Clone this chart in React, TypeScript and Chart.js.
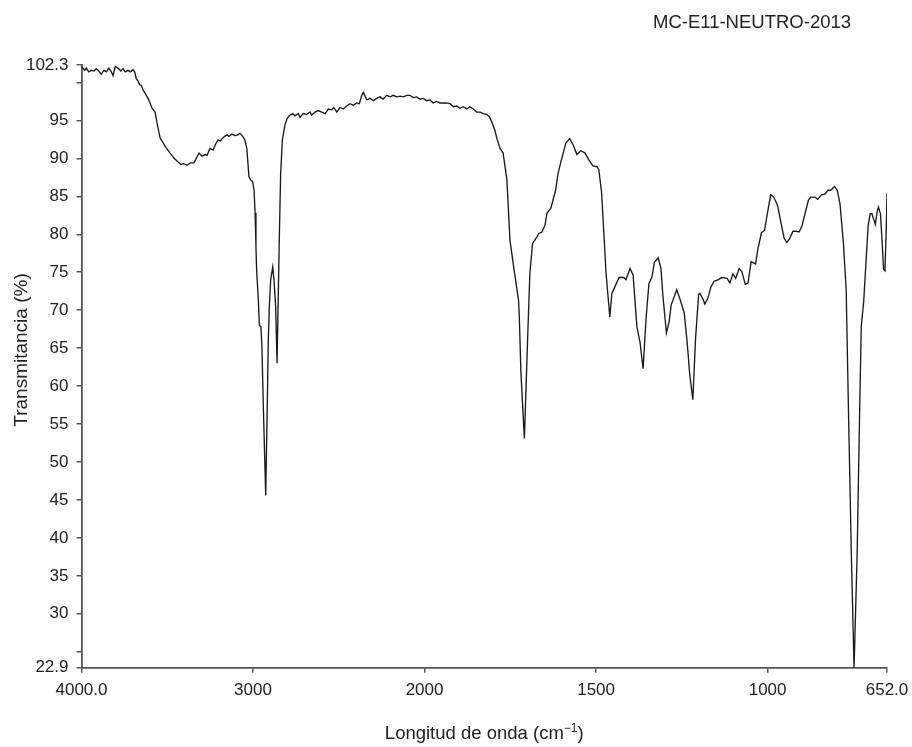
import React, { useEffect, useRef } from 'react';
import { Chart, registerables } from 'chart.js';

Chart.register(...registerables);

const TITLE = 'MC-E11-NEUTRO-2013';
const X_TITLE_MAIN = 'Longitud de onda (cm';
const X_TITLE_SUP = '−1';
const X_TITLE_END = ')';
const Y_TITLE = 'Transmitancia (%)';

const WAVENUMBERS = [
  4000, 3981, 3972, 3958, 3943, 3927, 3914, 3900, 3885, 3869, 3855, 3841, 3826, 3816, 3803, 3787,
  3771, 3758, 3745, 3729, 3713, 3700, 3690, 3681, 3671, 3661, 3651, 3641, 3622, 3612, 3600, 3589,
  3571, 3560, 3542, 3513, 3484, 3460, 3440, 3420, 3405, 3385, 3364, 3345, 3335, 3315, 3297, 3280,
  3268, 3251, 3233, 3218, 3204, 3190, 3181, 3165, 3152, 3140, 3123, 3105, 3088, 3076, 3060, 3047,
  3036, 3024, 3015, 3002, 2994, 2988, 2983, 2979, 2969, 2963, 2954, 2948, 2940, 2926, 2917, 2911,
  2905, 2897, 2885, 2878, 2868, 2860, 2854, 2847, 2839, 2829, 2814, 2800, 2784, 2769, 2755, 2736,
  2726, 2707, 2687, 2668, 2658, 2639, 2619, 2600, 2580, 2561, 2541, 2528, 2512, 2493, 2474, 2454,
  2435, 2415, 2396, 2380, 2366, 2357, 2347, 2337, 2318, 2299, 2279, 2260, 2241, 2221, 2201, 2182,
  2162, 2143, 2124, 2104, 2085, 2066, 2046, 2027, 2007, 1994, 1984, 1975, 1965, 1955, 1945, 1936,
  1926, 1916, 1906, 1897, 1887, 1877, 1868, 1858, 1848, 1838, 1829, 1819, 1811, 1804, 1795, 1789,
  1780, 1771, 1760, 1751, 1739, 1726, 1724, 1719, 1709, 1699, 1693, 1685, 1672, 1667, 1658, 1649,
  1643, 1632, 1618, 1611, 1600, 1588, 1577, 1567, 1556, 1544, 1532, 1521, 1509, 1497, 1492, 1484,
  1480, 1471, 1460, 1454, 1445, 1433, 1419, 1413, 1401, 1392, 1381, 1372, 1363, 1354, 1346, 1337,
  1330, 1319, 1311, 1305, 1295, 1287, 1281, 1265, 1255, 1243, 1234, 1227, 1218, 1210, 1201, 1197,
  1188, 1183, 1174, 1165, 1156, 1145, 1133, 1118, 1110, 1101, 1093, 1083, 1075, 1065, 1057, 1048,
  1035, 1029, 1018, 1009, 1000, 991, 982, 971, 961, 952, 944, 935, 926, 917, 908, 900,
  891, 881, 874, 862, 854, 843, 833, 824, 816, 805, 797, 789, 779, 771, 764, 756,
  748, 739, 732, 727, 720, 713, 707, 701, 696, 691, 686, 681, 677, 671, 666, 662,
  658, 654, 652,
];

const TRANSMITTANCE = [
  102.1, 101.6, 101.9, 101.4, 101.6, 101.5, 101.8, 101.5, 101.1, 101.6, 101.4, 101.9, 101.4, 100.9, 102.1, 101.9,
  101.5, 101.8, 101.4, 101.6, 101.4, 101.7, 101.4, 100.5, 100.2, 99.7, 99.6, 99.0, 98.3, 97.9, 97.3, 96.6,
  96.1, 94.7, 92.7, 91.6, 90.7, 90.0, 89.6, 89.2, 89.3, 89.1, 89.4, 89.4, 89.8, 90.7, 90.3, 90.5,
  90.4, 91.3, 91.1, 91.9, 92.4, 92.3, 92.6, 92.9, 93.1, 92.9, 93.2, 93.0, 93.1, 93.3, 92.9, 92.4,
  91.3, 87.6, 87.2, 86.9, 85.8, 82.8, 78.4, 75.3, 71.3, 68.0, 67.8, 65.2, 57.3, 45.6, 57.3, 66.1,
  70.5, 74.0, 75.7, 74.0, 70.5, 63.0, 70.5, 79.2, 88.0, 92.4, 94.4, 95.3, 95.7, 95.9, 95.6, 95.9,
  95.4, 95.9, 95.8, 96.1, 95.7, 96.1, 96.3, 96.1, 95.9, 96.5, 96.4, 96.7, 96.1, 96.7, 96.5, 96.9,
  97.2, 97.0, 97.3, 97.2, 98.3, 98.7, 98.2, 97.7, 97.9, 97.6, 97.9, 98.1, 97.8, 98.3, 98.1, 98.3,
  98.1, 98.2, 98.1, 98.3, 98.3, 98.0, 98.1, 97.8, 97.9, 97.6, 97.7, 97.3, 97.5, 97.3, 97.3, 97.3,
  97.2, 96.8, 96.9, 96.6, 96.8, 96.5, 96.8, 96.5, 96.1, 96.1, 95.9, 95.8, 95.5, 94.8, 93.7, 92.6,
  91.3, 90.7, 87.2, 79.2, 75.3, 71.3, 69.4, 61.7, 53.1, 67.0, 74.9, 78.8, 79.7, 80.1, 80.3, 81.2,
  82.8, 83.4, 85.8, 88.0, 90.0, 92.0, 92.6, 91.8, 90.5, 91.0, 90.7, 89.8, 89.0, 88.9, 88.5, 85.5,
  82.3, 74.9, 69.1, 72.2, 73.1, 74.3, 74.3, 74.0, 75.5, 74.6, 67.8, 65.8, 62.3, 69.1, 73.5, 74.4,
  76.3, 76.9, 75.5, 71.8, 67.0, 68.5, 70.7, 72.7, 71.4, 69.6, 65.5, 61.5, 58.2, 66.3, 72.1, 72.2,
  71.4, 70.8, 71.6, 73.1, 73.8, 74.0, 74.3, 74.2, 73.6, 74.8, 74.2, 75.5, 75.1, 73.4, 73.6, 76.4,
  76.1, 77.9, 80.2, 80.5, 82.9, 85.2, 84.9, 83.8, 81.5, 79.5, 78.9, 79.5, 80.4, 80.4, 80.3, 81.1,
  82.7, 84.5, 84.9, 84.9, 84.6, 85.2, 85.3, 85.8, 85.8, 86.3, 85.8, 84.0, 78.8, 72.7, 56.1, 37.9,
  22.9, 37.9, 56.1, 67.9, 71.1, 76.5, 81.1, 82.7, 82.7, 82.0, 81.3, 82.9, 83.6, 82.7, 78.8, 75.4,
  75.2, 81.0, 85.4,
];

const X_TICK_VALUES = [4000, 3000, 2000, 1500, 1000, 652];
const X_TICK_LABELS = ['4000.0', '3000', '2000', '1500', '1000', '652.0'];
const Y_TICK_VALUES = [22.9, 25, 30, 35, 40, 45, 50, 55, 60, 65, 70, 75, 80, 85, 90, 95, 100, 102.3];
const Y_TICK_LABELS = ['22.9', '', '30', '35', '40', '45', '50', '55', '60', '65', '70', '75', '80', '85', '90', '95', '', '102.3'];

const FONT = '"Liberation Sans", Arial, Helvetica, sans-serif';
const TEXT_COLOR = '#222222';
const AXIS_COLOR = '#555555';

// IR spectra use a split scale: 4000-2000 compressed 2:1, 2000-652 full.
function toAxis(wn: number): number {
  return wn >= 2000 ? (4000 - wn) / 2 : 1000 + (2000 - wn);
}

const textPlugin = {
  id: 'spectrumTexts',
  afterDraw(chart: any) {
    const ctx: CanvasRenderingContext2D = chart.ctx;
    const area = chart.chartArea;
    ctx.save();
    ctx.fillStyle = TEXT_COLOR;
    ctx.textBaseline = 'alphabetic';

    ctx.font = `18.5px ${FONT}`;
    ctx.textAlign = 'center';
    ctx.fillText(TITLE, 752, 27.5);

    // x axis title with superscript
    ctx.font = `18.5px ${FONT}`;
    const mainW = ctx.measureText(X_TITLE_MAIN).width;
    const endW = ctx.measureText(X_TITLE_END).width;
    ctx.font = `12px ${FONT}`;
    const supW = ctx.measureText(X_TITLE_SUP).width;
    const total = mainW + supW + endW;
    const cx = (area.left + area.right) / 2;
    const x0 = cx - total / 2;
    const base = 739;
    ctx.textAlign = 'left';
    ctx.font = `18.5px ${FONT}`;
    ctx.fillText(X_TITLE_MAIN, x0, base);
    ctx.font = `12px ${FONT}`;
    ctx.fillText(X_TITLE_SUP, x0 + mainW, base - 7);
    ctx.font = `18.5px ${FONT}`;
    ctx.fillText(X_TITLE_END, x0 + mainW + supW, base);

    // y axis title
    ctx.translate(27, 350);
    ctx.rotate(-Math.PI / 2);
    ctx.textAlign = 'center';
    ctx.font = `19px ${FONT}`;
    ctx.fillText(Y_TITLE, 0, 0);
    ctx.restore();
  },
};

export default function App() {
  const canvasRef = useRef<HTMLCanvasElement | null>(null);

  useEffect(() => {
    document.body.style.margin = '0';
    const canvas = canvasRef.current;
    if (!canvas) return;
    const points = WAVENUMBERS.map((w, i) => ({ x: toAxis(w), y: TRANSMITTANCE[i] }));
    const chart = new Chart(canvas, {
      type: 'line',
      data: {
        datasets: [
          {
            data: points,
            borderColor: '#1a1a1a',
            borderWidth: 1.35,
            pointRadius: 0,
            tension: 0,
            fill: false,
          },
        ],
      },
      options: {
        animation: false,
        responsive: false,
        devicePixelRatio: 1,
        layout: { padding: { left: 0, right: 25, top: 65, bottom: 0 } },
        plugins: {
          legend: { display: false },
          tooltip: { enabled: false },
          title: { display: false },
        },
        scales: {
          x: {
            type: 'linear',
            min: toAxis(4000),
            max: toAxis(652),
            afterBuildTicks: (s: any) => {
              s.ticks = X_TICK_VALUES.map((v) => ({ value: toAxis(v) }));
            },
            afterFit: (s: any) => {
              s.height = 79.3;
              s.paddingLeft = 0;
              s.paddingRight = 0;
            },
            ticks: {
              autoSkip: false,
              maxRotation: 0,
              minRotation: 0,
              padding: 7,
              color: TEXT_COLOR,
              font: { family: FONT, size: 17 },
              callback: (_v: any, i: number) => X_TICK_LABELS[i],
            },
            grid: {
              display: true,
              drawOnChartArea: false,
              drawTicks: true,
              tickLength: 5,
              color: AXIS_COLOR,
              lineWidth: 1.5,
            },
            border: { display: true, color: AXIS_COLOR, width: 1.8 },
          },
          y: {
            type: 'linear',
            min: 22.9,
            max: 102.3,
            afterBuildTicks: (s: any) => {
              s.ticks = Y_TICK_VALUES.map((v) => ({ value: v }));
            },
            afterFit: (s: any) => {
              s.width = 81.5;
              s.paddingTop = 0;
              s.paddingBottom = 0;
            },
            ticks: {
              autoSkip: false,
              padding: 8,
              color: TEXT_COLOR,
              font: { family: FONT, size: 17 },
              callback: (_v: any, i: number) => Y_TICK_LABELS[i],
            },
            grid: {
              display: true,
              drawOnChartArea: false,
              drawTicks: true,
              tickLength: 5,
              color: AXIS_COLOR,
              lineWidth: 1.5,
            },
            border: { display: true, color: AXIS_COLOR, width: 1.8 },
          },
        },
      } as any,
      plugins: [textPlugin],
    });
    return () => chart.destroy();
  }, []);

  return (
    <div style={{ width: 912, height: 747, background: '#ffffff' }}>
      <canvas ref={canvasRef} width={912} height={747} style={{ display: 'block', width: 912, height: 747 }} />
    </div>
  );
}
